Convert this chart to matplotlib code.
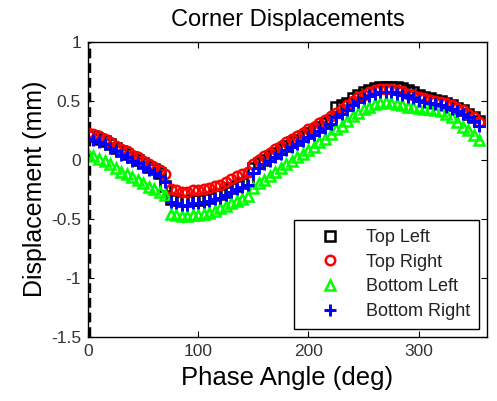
import numpy as np
import matplotlib
matplotlib.use('Agg')
from matplotlib import pyplot as plt

plt.rcParams['font.family'] = ['Liberation Sans', 'DejaVu Sans']
plt.rcParams['axes.unicode_minus'] = False

# phase angle, one sample every 5 deg
phase = list(range(0, 360, 5))

top_left = [0.21, 0.20, 0.18, 0.16, 0.13, 0.10, 0.07, 0.05, 0.02, 0.00, -0.03, -0.06, -0.08, -0.11,
            -0.22,
            -0.33, -0.34, -0.35, -0.35, -0.34, -0.34, -0.33, -0.32, -0.30, -0.29, -0.27, -0.24, -0.22, -0.20, -0.18,
            -0.07, -0.03, 0.00, 0.03, 0.06, 0.09, 0.12, 0.15, 0.17, 0.20, 0.23, 0.25, 0.28, 0.31, 0.34,
            0.45, 0.46, 0.48, 0.52, 0.55, 0.57, 0.59, 0.61, 0.62, 0.62, 0.62, 0.62, 0.61, 0.59, 0.57, 0.55,
            0.53, 0.52, 0.51, 0.50, 0.48, 0.46, 0.44, 0.42, 0.39, 0.36, 0.33]

top_right = [0.23, 0.22, 0.20, 0.18, 0.15, 0.12, 0.09, 0.07, 0.04, 0.02, -0.01, -0.04, -0.06, -0.09,
             -0.12,
             -0.25, -0.26, -0.27, -0.27, -0.26, -0.26, -0.25, -0.24, -0.22, -0.21, -0.19, -0.16, -0.14, -0.12, -0.10,
             -0.04, 0.00, 0.03, 0.06, 0.09, 0.12, 0.15, 0.18, 0.20, 0.23, 0.26, 0.28, 0.31, 0.34, 0.37,
             0.40, 0.43, 0.46, 0.50, 0.53, 0.55, 0.57, 0.59, 0.60, 0.60, 0.60, 0.59, 0.58, 0.56, 0.55, 0.53,
             0.52, 0.51, 0.50, 0.49, 0.48, 0.46, 0.44, 0.42, 0.39, 0.36, 0.32]

bottom_left = [0.05, 0.03, 0.01, -0.01, -0.04, -0.07, -0.10, -0.12, -0.15, -0.17, -0.20, -0.23, -0.25, -0.27,
               -0.30,
               -0.46, -0.47, -0.48, -0.48, -0.47, -0.47, -0.46, -0.45, -0.43, -0.41, -0.39, -0.37, -0.35, -0.33, -0.31,
               -0.24, -0.20, -0.17, -0.14, -0.10, -0.07, -0.04, -0.01, 0.02, 0.05, 0.08, 0.11, 0.15, 0.18, 0.22,
               0.26, 0.29, 0.33, 0.37, 0.40, 0.43, 0.45, 0.47, 0.48, 0.49, 0.48, 0.47, 0.46, 0.45, 0.45, 0.44,
               0.43, 0.43, 0.42, 0.41, 0.39, 0.36, 0.32, 0.28, 0.25, 0.21, 0.17]

bottom_right = [0.18, 0.17, 0.15, 0.13, 0.10, 0.07, 0.04, 0.02, -0.01, -0.03, -0.06, -0.09, -0.11, -0.14,
                -0.19,
                -0.36, -0.37, -0.38, -0.38, -0.37, -0.37, -0.36, -0.35, -0.33, -0.32, -0.30, -0.27, -0.25, -0.23, -0.21,
                -0.11, -0.07, -0.04, -0.01, 0.02, 0.05, 0.08, 0.11, 0.13, 0.16, 0.19, 0.21, 0.24, 0.27, 0.30,
                0.36, 0.39, 0.42, 0.46, 0.49, 0.52, 0.54, 0.56, 0.57, 0.57, 0.57, 0.56, 0.55, 0.53, 0.52, 0.50,
                0.49, 0.48, 0.47, 0.46, 0.45, 0.43, 0.41, 0.39, 0.36, 0.33, 0.29]

labels = ['Top Left', 'Top Right', 'Bottom Left', 'Bottom Right']
x_ticks = [0, 100, 200, 300]
y_ticks = [-1.5, -1, -0.5, 0, 0.5, 1]
y_tick_labels = ['-1.5', '-1', '-0.5', '0', '0.5', '1']

fig = plt.figure(figsize=(4.97, 4.01), dpi=100)
ax = fig.add_axes([0.177, 0.160, 0.803, 0.736])

# thick dashed line along x = 0
ax.axvline(1.2, color='k', ls='--', lw=3.2, dashes=(2.2, 1.1), zorder=1)

ms = 6.8
mew = 1.8
ax.plot(phase, top_left, 's', mfc='none', mec='k', ms=ms, mew=mew, label=labels[0])
ax.plot(phase, top_right, 'o', mfc='none', mec='r', ms=ms, mew=mew, label=labels[1])
ax.plot(phase, bottom_left, '^', mfc='none', mec='#00ff00', ms=ms + 1, mew=mew, label=labels[2])
ax.plot(phase, bottom_right, '+', color='b', ms=ms + 1.5, mew=mew + 0.3, label=labels[3])

ax.set_xlim(0, 362)
ax.set_ylim(-1.5, 1)
ax.set_xticks(x_ticks)
ax.set_yticks(y_ticks)
ax.set_yticklabels(y_tick_labels)
ax.tick_params(direction='in', top=True, right=True, length=4, labelsize=12.5,
               labelcolor='#333333', pad=5)
for s in ax.spines.values():
    s.set_linewidth(1.0)

ax.set_title('Corner Displacements', fontsize=17, pad=11)
ax.set_xlabel('Phase Angle (deg)', fontsize=18.5, labelpad=5)
ax.set_ylabel('Displacement (mm)', fontsize=18, labelpad=3)

leg = ax.legend(loc='lower right', bbox_to_anchor=(0.98, 0.027), borderaxespad=0,
                fontsize=13, frameon=True, fancybox=False, framealpha=1,
                edgecolor='k', handlelength=3.0, handletextpad=0.5,
                labelspacing=0.42, borderpad=0.5)
leg.get_frame().set_linewidth(1.0)
for t in leg.get_texts():
    t.set_color('#222222')

fig.savefig('out.png', dpi=100)
